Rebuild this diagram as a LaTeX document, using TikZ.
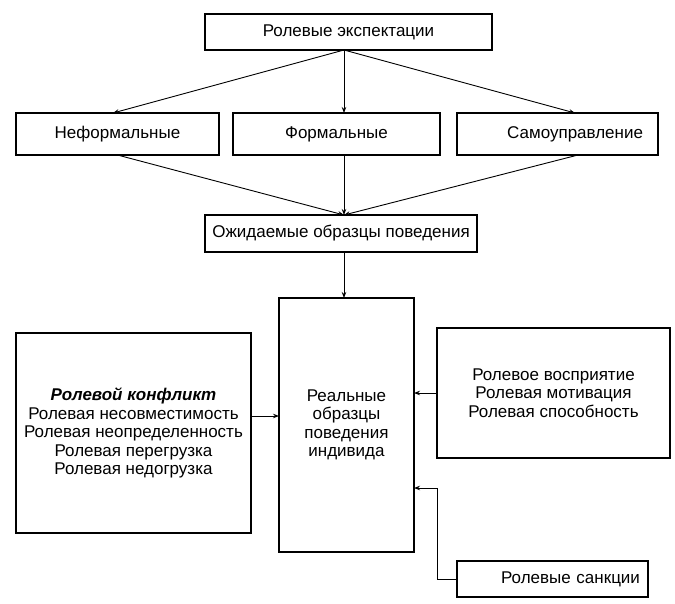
\documentclass[tikz,border=0pt]{standalone}
\usepackage{fontspec}
\setmainfont{Liberation Sans}
\usetikzlibrary{positioning, arrows.meta}

\tikzset{
  box/.style={draw, line width=1.3pt, inner sep=0pt, outer sep=0pt, align=center},
  arr/.style={line width=0.9pt, -{Stealth[length=6pt,width=4.5pt]}}
}

\begin{document}
\begin{tikzpicture}[x=1pt, y=-1pt, font=\fontsize{17}{18.5}\selectfont]
    \useasboundingbox (0,0) rectangle (675,603);

    \coordinate (spine) at (344,0);
    \node[box, minimum width=287pt, minimum height=36pt] (exp) at (348.5,32) {Ролевые экспектации};
    \node[box, minimum width=203pt, minimum height=42pt] (nef) at (117.5,134) {Неформальные};
    \node[box, minimum width=207pt, minimum height=42pt, right=14pt of nef] (form) {Формальные};
    \node[box, minimum height=42pt, text width=171pt, align=right, inner xsep=15pt, right=17pt of form] (samo) {Самоуправление};
    \node[box, minimum width=272pt, minimum height=37pt] (ozh) at (341,233.5) {Ожидаемые образцы поведения};
    \node[box, minimum width=135pt, minimum height=254pt] (real) at (346.5,425) {Реальные\\образцы\\поведения\\индивида};
    \node[box, minimum width=235pt, minimum height=200pt] (konf) at (133.5,433)
      {\textbf{\textit{Ролевой конфликт}}\\Ролевая несовместимость\\Ролевая неопределенность\\Ролевая перегрузка\\Ролевая недогрузка};
    \node[box, minimum width=233pt, minimum height=130pt] (vospr) at (553.5,393)
      {Ролевое восприятие\\Ролевая мотивация\\Ролевая способность};
    \node[box, minimum height=36pt, text width=175pt, align=right, inner xsep=8pt] (sank) at (552.5,579) {Ролевые санкции};
    \coordinate (turn) at (437,488);

    \draw[arr] (exp.south -| spine) -- ([xshift=-4.5pt]nef.north);
    \draw[arr] (exp.south -| spine) -- (form.north -| spine);
    \draw[arr] (exp.south -| spine) -- ([xshift=17.5pt]samo.north);
    \draw[arr] (nef.south) -- (ozh.north -| spine);
    \draw[arr] (form.south -| spine) -- (ozh.north -| spine);
    \draw[arr] ([xshift=20.5pt]samo.south) -- (ozh.north -| spine);
    \draw[arr] (ozh.south -| spine) -- (real.north -| spine);
    \draw[arr] ([yshift=17pt]konf.east) -- ([yshift=17pt]konf.east -| real.west);
    \draw[arr] (vospr.west) -- (vospr.west -| real.east);
    \draw[arr] (sank.west) -| (turn) -- (turn -| real.east);
\end{tikzpicture}
\end{document}
